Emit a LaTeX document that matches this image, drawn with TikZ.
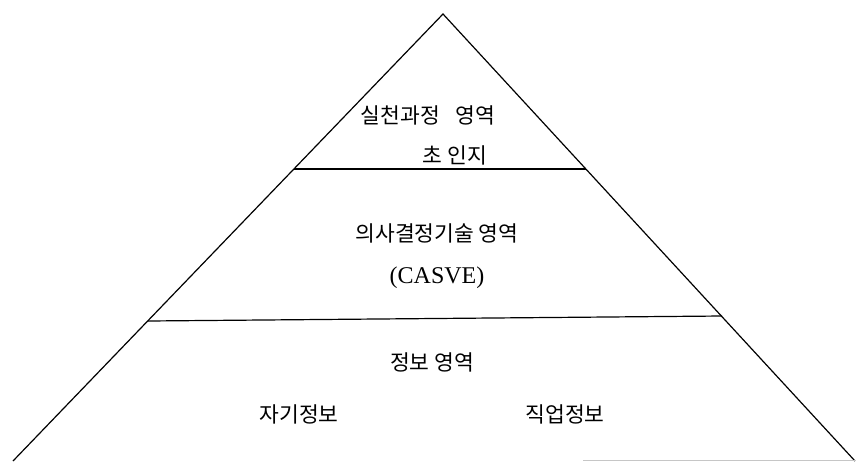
\documentclass[tikz,border=0pt]{standalone}
\usepackage{fontspec}
\setmainfont{Liberation Serif}
\newfontfamily\krfont{Noto Sans CJK KR}
\begin{document}
\begin{tikzpicture}[x=1pt,y=-1pt,line width=1.2pt,
  krlabel/.style={font=\krfont\fontsize{21.5}{21.5}\selectfont, inner sep=0pt},
  latlabel/.style={font=\fontsize{24}{24}\selectfont, inner sep=0pt}]
\useasboundingbox (0,0) rectangle (856,461);
\coordinate (apex) at (443,14);
\coordinate (bl) at (13,461);
\coordinate (br) at (855,461);
\coordinate (l1) at (294,169);
\coordinate (r1) at (586,169);
\coordinate (l2) at (148,321);
\coordinate (r2) at (722,316);
\coordinate (g1) at (583,460);
\coordinate (g2) at (856,460);
\draw (bl) -- (apex) -- (br);
\draw (l1) -- (r1);
\draw (l2) -- (r2);
\draw[gray!45,line width=0.8pt] (g1) -- (g2);
\node[krlabel] (t1) at (428,115) {실천과정\hspace{16pt}영역};
\node[krlabel] (t2) at (455,155) {초 인지};
\node[krlabel] (t3) at (437,233) {의사결정기술 영역};
\node[latlabel] (t4) at (437,278) {(CASVE)};
\node[krlabel] (t5) at (432,362) {정보 영역};
\node[krlabel] (t6) at (299,414) {자기정보};
\node[krlabel] (t7) at (565,414) {직업정보};
\end{tikzpicture}
\end{document}
